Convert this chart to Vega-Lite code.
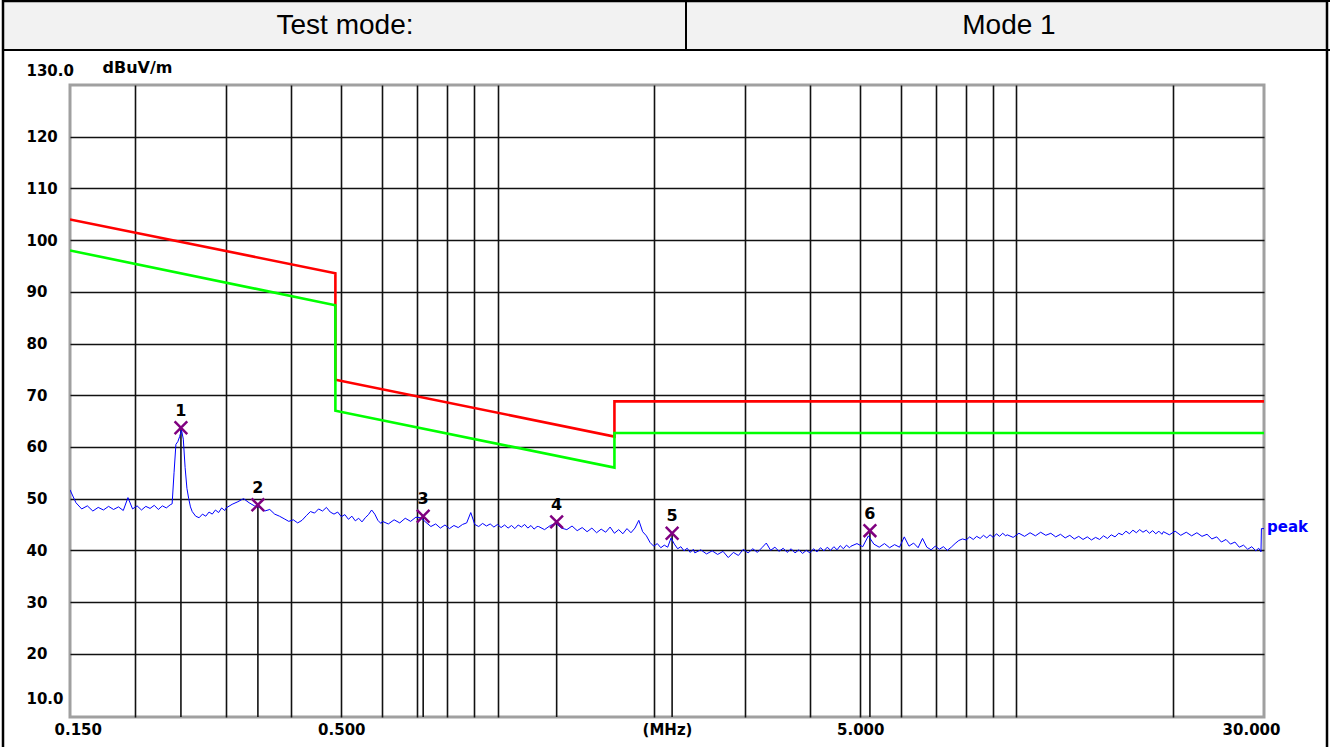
{
  "$schema": "https://vega.github.io/schema/vega-lite/v6.json",
  "width": 1194,
  "height": 632,
  "autosize": {"type": "none"},
  "padding": {"left": 70, "top": 85, "right": 66, "bottom": 30},
  "background": "white",
  "config": {
    "view": {"stroke": "#a0a0a0", "strokeWidth": 3},
    "font": "DejaVu Sans"
  },
  "datasets": {
    "header": [{"cell": "Test mode:"}, {"cell": "Mode 1"}],
    "limits": [
      {"limit": "Limit", "i": 0, "f": 0.15, "v": 104.0},
      {"limit": "Limit", "i": 1, "f": 0.487, "v": 93.6},
      {"limit": "Limit", "i": 2, "f": 0.487, "v": 73.0},
      {"limit": "Limit", "i": 3, "f": 1.68, "v": 62.0},
      {"limit": "Limit", "i": 4, "f": 1.68, "v": 68.8},
      {"limit": "Limit", "i": 5, "f": 30, "v": 68.8},
      {"limit": "Limit -6dB", "i": 0, "f": 0.15, "v": 98.0},
      {"limit": "Limit -6dB", "i": 1, "f": 0.487, "v": 87.4},
      {"limit": "Limit -6dB", "i": 2, "f": 0.487, "v": 67.0},
      {"limit": "Limit -6dB", "i": 3, "f": 1.68, "v": 56.0},
      {"limit": "Limit -6dB", "i": 4, "f": 1.68, "v": 62.7},
      {"limit": "Limit -6dB", "i": 5, "f": 30, "v": 62.7}
    ],
    "markers": [
      {"no": "1", "f": 0.2454, "v": 63.7},
      {"no": "2", "f": 0.3453, "v": 48.8},
      {"no": "3", "f": 0.719, "v": 46.6},
      {"no": "4", "f": 1.30, "v": 45.5},
      {"no": "5", "f": 2.17, "v": 43.3},
      {"no": "6", "f": 5.22, "v": 43.8}
    ],
    "trace": [
      {"f":0.150,"v":51.7},{"f":0.154,"v":49.2},{"f":0.158,"v":48.0},{"f":0.162,"v":48.6},{"f":0.166,"v":47.6},
      {"f":0.170,"v":48.3},{"f":0.174,"v":47.8},{"f":0.178,"v":48.5},{"f":0.182,"v":47.9},{"f":0.186,"v":48.4},
      {"f":0.190,"v":47.7},{"f":0.194,"v":50.2},{"f":0.198,"v":48.0},{"f":0.202,"v":48.6},{"f":0.206,"v":47.8},
      {"f":0.210,"v":48.5},{"f":0.214,"v":48.1},{"f":0.218,"v":48.7},{"f":0.222,"v":47.9},{"f":0.226,"v":48.6},
      {"f":0.230,"v":48.2},{"f":0.234,"v":48.8},{"f":0.236,"v":49.0},{"f":0.238,"v":55.0},{"f":0.240,"v":60.5},
      {"f":0.242,"v":61.0},{"f":0.244,"v":62.0},{"f":0.246,"v":63.3},{"f":0.248,"v":61.5},{"f":0.250,"v":56.0},
      {"f":0.252,"v":52.0},{"f":0.254,"v":50.0},{"f":0.256,"v":48.4},{"f":0.258,"v":47.5},{"f":0.262,"v":46.6},
      {"f":0.266,"v":46.3},{"f":0.270,"v":47.0},{"f":0.274,"v":46.6},{"f":0.278,"v":47.4},{"f":0.282,"v":47.0},
      {"f":0.286,"v":47.8},{"f":0.290,"v":47.3},{"f":0.294,"v":48.2},{"f":0.298,"v":47.7},
      {"f":0.300,"v":48.2},{"f":0.308,"v":48.9},{"f":0.316,"v":49.4},{"f":0.324,"v":50.0},{"f":0.332,"v":49.2},
      {"f":0.340,"v":48.6},{"f":0.348,"v":48.3},{"f":0.356,"v":47.6},{"f":0.364,"v":47.9},{"f":0.372,"v":47.0},
      {"f":0.380,"v":46.6},{"f":0.388,"v":46.1},{"f":0.396,"v":45.6},{"f":0.404,"v":45.9},{"f":0.412,"v":45.3},
      {"f":0.420,"v":45.8},{"f":0.428,"v":46.7},{"f":0.436,"v":47.5},{"f":0.444,"v":47.2},{"f":0.452,"v":48.0},
      {"f":0.460,"v":47.6},{"f":0.468,"v":48.3},{"f":0.476,"v":47.4},{"f":0.484,"v":47.0},{"f":0.492,"v":47.4},
      {"f":0.500,"v":46.5},{"f":0.508,"v":46.9},{"f":0.516,"v":46.0},{"f":0.524,"v":46.6},{"f":0.532,"v":45.7},
      {"f":0.540,"v":46.2},{"f":0.548,"v":45.5},{"f":0.556,"v":46.3},{"f":0.564,"v":46.9},{"f":0.572,"v":47.8},
      {"f":0.580,"v":47.0},{"f":0.588,"v":45.8},{"f":0.596,"v":45.2},
      {"f":0.600,"v":45.6},{"f":0.616,"v":45.1},{"f":0.632,"v":45.9},{"f":0.648,"v":45.3},{"f":0.664,"v":46.2},
      {"f":0.680,"v":45.6},{"f":0.696,"v":46.4},{"f":0.712,"v":46.3},{"f":0.728,"v":45.4},{"f":0.744,"v":44.6},
      {"f":0.760,"v":45.1},{"f":0.776,"v":44.3},{"f":0.792,"v":44.9},{"f":0.808,"v":44.2},{"f":0.824,"v":44.8},
      {"f":0.840,"v":44.4},{"f":0.856,"v":45.0},{"f":0.872,"v":45.3},{"f":0.888,"v":47.3},{"f":0.904,"v":45.0},
      {"f":0.920,"v":44.6},{"f":0.936,"v":45.2},{"f":0.952,"v":44.7},{"f":0.968,"v":45.1},{"f":0.984,"v":44.5},
      {"f":1.000,"v":45.0},{"f":1.016,"v":44.4},{"f":1.032,"v":44.9},{"f":1.048,"v":44.3},{"f":1.064,"v":44.8},
      {"f":1.080,"v":44.2},{"f":1.096,"v":44.9},{"f":1.112,"v":44.5},{"f":1.128,"v":45.0},{"f":1.144,"v":44.3},
      {"f":1.160,"v":44.8},{"f":1.176,"v":44.1},{"f":1.192,"v":44.6},
      {"f":1.200,"v":44.6},{"f":1.232,"v":44.0},{"f":1.264,"v":44.8},{"f":1.296,"v":45.2},{"f":1.328,"v":44.3},
      {"f":1.360,"v":44.0},{"f":1.392,"v":44.7},{"f":1.424,"v":43.8},{"f":1.456,"v":44.4},{"f":1.488,"v":43.6},
      {"f":1.520,"v":44.3},{"f":1.552,"v":43.4},{"f":1.584,"v":44.1},{"f":1.616,"v":43.5},{"f":1.648,"v":44.5},
      {"f":1.680,"v":43.3},{"f":1.712,"v":44.0},{"f":1.744,"v":43.2},{"f":1.776,"v":44.2},{"f":1.808,"v":43.4},
      {"f":1.840,"v":44.3},{"f":1.872,"v":45.8},{"f":1.904,"v":43.6},{"f":1.936,"v":42.8},{"f":1.968,"v":41.5},
      {"f":2.000,"v":40.8},{"f":2.032,"v":41.3},{"f":2.064,"v":40.5},{"f":2.096,"v":41.0},{"f":2.128,"v":40.6},
      {"f":2.160,"v":42.4},{"f":2.192,"v":41.2},{"f":2.224,"v":40.3},{"f":2.256,"v":40.7},{"f":2.288,"v":39.9},
      {"f":2.320,"v":40.4},{"f":2.352,"v":39.6},{"f":2.384,"v":40.2},
      {"f":2.400,"v":39.5},{"f":2.464,"v":40.1},{"f":2.528,"v":39.3},{"f":2.592,"v":39.9},{"f":2.656,"v":39.2},
      {"f":2.720,"v":39.8},{"f":2.784,"v":38.6},{"f":2.848,"v":39.6},{"f":2.912,"v":39.0},{"f":2.976,"v":40.2},
      {"f":3.040,"v":39.5},{"f":3.104,"v":40.3},{"f":3.168,"v":39.6},{"f":3.232,"v":40.5},{"f":3.296,"v":41.4},
      {"f":3.360,"v":40.0},{"f":3.424,"v":40.6},{"f":3.488,"v":39.8},{"f":3.552,"v":40.4},{"f":3.616,"v":39.6},
      {"f":3.680,"v":40.3},{"f":3.744,"v":39.5},{"f":3.808,"v":40.1},{"f":3.872,"v":39.4},{"f":3.936,"v":40.0},
      {"f":4.000,"v":39.5},{"f":4.064,"v":40.3},{"f":4.128,"v":39.7},{"f":4.192,"v":40.5},{"f":4.256,"v":39.9},
      {"f":4.320,"v":40.6},{"f":4.384,"v":40.0},{"f":4.448,"v":40.7},{"f":4.512,"v":40.1},{"f":4.576,"v":40.9},
      {"f":4.640,"v":40.3},{"f":4.704,"v":41.0},{"f":4.768,"v":40.5},
      {"f":4.800,"v":40.8},{"f":4.928,"v":41.3},{"f":5.056,"v":40.7},{"f":5.184,"v":42.8},{"f":5.312,"v":41.2},
      {"f":5.440,"v":40.6},{"f":5.568,"v":41.3},{"f":5.696,"v":40.5},{"f":5.824,"v":41.1},{"f":5.952,"v":40.6},
      {"f":6.080,"v":42.6},{"f":6.208,"v":40.8},{"f":6.336,"v":41.4},{"f":6.464,"v":40.5},{"f":6.592,"v":42.3},
      {"f":6.720,"v":40.6},{"f":6.848,"v":40.1},{"f":6.976,"v":40.8},{"f":7.104,"v":40.2},{"f":7.232,"v":40.7},
      {"f":7.360,"v":40.0},{"f":7.488,"v":40.6},{"f":7.616,"v":41.3},{"f":7.744,"v":41.9},{"f":7.872,"v":42.2},
      {"f":8.000,"v":42.0},{"f":8.128,"v":42.6},{"f":8.256,"v":42.1},{"f":8.384,"v":42.7},{"f":8.512,"v":42.3},
      {"f":8.640,"v":42.9},{"f":8.768,"v":42.4},{"f":8.896,"v":43.0},{"f":9.024,"v":42.5},{"f":9.152,"v":43.2},
      {"f":9.280,"v":42.7},{"f":9.408,"v":43.3},{"f":9.536,"v":42.8},
      {"f":9.600,"v":43.0},{"f":9.856,"v":42.5},{"f":10.112,"v":43.3},{"f":10.368,"v":42.7},{"f":10.624,"v":43.4},
      {"f":10.880,"v":42.8},{"f":11.136,"v":43.5},{"f":11.392,"v":42.9},{"f":11.648,"v":43.3},{"f":11.904,"v":42.6},
      {"f":12.160,"v":43.1},{"f":12.416,"v":42.4},{"f":12.672,"v":42.9},{"f":12.928,"v":42.2},{"f":13.184,"v":42.7},
      {"f":13.440,"v":42.1},{"f":13.696,"v":42.6},{"f":13.952,"v":42.0},{"f":14.208,"v":42.5},{"f":14.464,"v":42.1},
      {"f":14.720,"v":42.8},{"f":14.976,"v":42.3},{"f":15.232,"v":43.0},{"f":15.488,"v":42.6},{"f":15.744,"v":43.3},
      {"f":16.000,"v":43.0},{"f":16.256,"v":43.7},{"f":16.512,"v":43.2},{"f":16.768,"v":43.9},{"f":17.024,"v":43.4},
      {"f":17.280,"v":44.0},{"f":17.536,"v":43.5},{"f":17.792,"v":43.9},{"f":18.048,"v":43.3},{"f":18.304,"v":43.8},
      {"f":18.560,"v":43.2},{"f":18.816,"v":43.7},{"f":19.072,"v":43.1},
      {"f":19.200,"v":43.6},{"f":19.712,"v":43.0},{"f":20.224,"v":43.7},{"f":20.736,"v":42.9},{"f":21.248,"v":43.5},
      {"f":21.760,"v":42.8},{"f":22.272,"v":43.4},{"f":22.784,"v":42.7},{"f":23.296,"v":43.1},{"f":23.808,"v":42.2},
      {"f":24.320,"v":42.6},{"f":24.832,"v":41.6},{"f":25.344,"v":42.1},{"f":25.856,"v":41.2},{"f":26.368,"v":41.6},
      {"f":26.880,"v":40.6},{"f":27.392,"v":41.0},{"f":27.904,"v":40.2},{"f":28.416,"v":40.7},{"f":28.928,"v":39.9},
      {"f":29.300,"v":40.4},{"f":29.600,"v":39.7},{"f":29.660,"v":44.2},{"f":30.000,"v":44.2}
    ]
  },
  "layer": [
    {
      "data": {"name": "header"},
      "layer": [
        {
          "mark": {"type": "rect", "fill": "#f2f2f2", "stroke": "#000000", "strokeWidth": 2, "clip": false},
          "encoding": {
            "x": {"datum": "table", "type": "nominal", "axis": null,
                  "scale": {"range": [-67, 1257], "paddingInner": 0, "paddingOuter": 0}},
            "y": {"datum": "header", "type": "nominal", "axis": null,
                  "scale": {"range": [-84, -35], "paddingInner": 0, "paddingOuter": 0}}
          }
        },
        {
          "transform": [{"filter": "datum.cell == 'Mode 1'"}],
          "mark": {"type": "rect", "fill": null, "fillOpacity": 0, "stroke": "#000000", "strokeWidth": 2, "clip": false},
          "encoding": {
            "x": {"field": "cell", "type": "nominal", "axis": null,
                  "scale": {"domain": ["Test mode:", "Mode 1"], "range": [-66, 1298], "paddingInner": 0, "paddingOuter": 0}},
            "y": {"datum": "header", "type": "nominal", "axis": null}
          }
        },
        {
          "mark": {"type": "text", "font": "Liberation Sans", "fontSize": 28, "color": "#000000", "baseline": "middle"},
          "encoding": {
            "x": {"field": "cell", "type": "nominal", "axis": null,
                  "scale": {"domain": ["Test mode:", "Mode 1"], "range": [-57, 1271], "paddingInner": 0, "paddingOuter": 0}},
            "y": {"datum": "header", "type": "nominal", "axis": null},
            "text": {"field": "cell"}
          }
        }
      ],
      "resolve": {"scale": {"x": "independent"}}
    },
    {
      "data": {"values": [{}]},
      "layer": [
        {
          "mark": {"type": "rect", "fill": null, "fillOpacity": 0, "stroke": "#000000", "strokeWidth": 2.5, "clip": false},
          "encoding": {
            "x": {"datum": "page", "type": "nominal", "axis": null,
                  "scale": {"range": [-67, 1257], "paddingInner": 0, "paddingOuter": 0}},
            "y": {"datum": "page", "type": "nominal", "axis": null,
                  "scale": {"range": [-84, 680], "paddingInner": 0, "paddingOuter": 0}}
          }
        }
      ]
    },
    {
      "layer": [
        {
          "data": {"name": "markers"},
          "mark": {"type": "rule", "color": "#111111", "strokeWidth": 1.6, "clip": true},
          "encoding": {
            "x": {"field": "f", "type": "quantitative", "scale": {"type": "log", "domain": [0.15, 30], "nice": false}},
            "y": {"field": "v", "type": "quantitative", "scale": {"domain": [7.76, 130], "nice": false, "zero": false}},
            "y2": {"datum": 0}
          }
        },
        {
          "data": {"name": "trace"},
          "mark": {"type": "line", "color": "#0000ff", "strokeWidth": 1, "clip": true},
          "encoding": {
            "x": {"field": "f", "type": "quantitative",
              "axis": {
                "values": [0.15,0.2,0.3,0.4,0.5,0.6,0.7,0.8,0.9,1,2,3,4,5,6,7,8,9,10,20,30],
                "labelExpr": "datum.value == 0.15 ? '0.150' : datum.value == 0.5 ? '0.500' : datum.value == 5 ? '5.000' : datum.value == 30 ? '30.000' : ''",
                "grid": true,
                "gridColor": {"condition": {"test": "datum.value == 0.15 || datum.value == 30", "value": "transparent"}, "value": "#111111"},
                "gridWidth": 1.6,
                "ticks": false, "tickSize": 0, "domain": false,
                "labelFont": "DejaVu Sans", "labelFontWeight": "bold", "labelFontSize": 15, "labelColor": "#000000",
                "labelPadding": 5, "labelBaseline": "top", "labelFlush": true, "labelFlushOffset": 16, "labelOverlap": false,
                "title": "(MHz)", "titleFont": "DejaVu Sans", "titleFontWeight": "bold", "titleFontSize": 15,
                "titleColor": "#000000", "titleY": 5, "titleBaseline": "top"
              }
            },
            "y": {"field": "v", "type": "quantitative",
              "axis": {
                "values": [10,20,30,40,50,60,70,80,90,100,110,120,130],
                "labelExpr": "datum.value == 10 ? '10.0' : datum.value == 130 ? '130.0' : datum.label",
                "grid": true,
                "gridColor": {"condition": {"test": "datum.value == 10 || datum.value == 130", "value": "transparent"}, "value": "#111111"},
                "gridWidth": 1.6,
                "ticks": false, "tickSize": 0, "domain": false,
                "labelFont": "DejaVu Sans", "labelFontWeight": "bold", "labelFontSize": 15, "labelColor": "#000000",
                "labelAlign": "left", "labelPadding": 44, "labelOverlap": false,
                "labelOffset": {"condition": [{"test": "datum.value == 130", "value": -15}, {"test": "datum.value == 10", "value": -7}], "value": 0},
                "title": "dBuV/m", "titleAngle": 0, "titleX": 32, "titleY": -18, "titleAlign": "left", "titleBaseline": "middle",
                "titleFont": "DejaVu Sans", "titleFontWeight": "bold", "titleFontSize": 16, "titleColor": "#000000"
              }
            }
          }
        },
        {
          "data": {"name": "limits"},
          "transform": [{"filter": "datum.limit == 'Limit'"}],
          "mark": {"type": "line", "color": "#ff0000", "strokeWidth": 2.6, "clip": true},
          "encoding": {
            "x": {"field": "f", "type": "quantitative"},
            "y": {"field": "v", "type": "quantitative"},
            "order": {"field": "i"}
          }
        },
        {
          "data": {"name": "limits"},
          "transform": [{"filter": "datum.limit == 'Limit -6dB'"}],
          "mark": {"type": "line", "color": "#00ff00", "strokeWidth": 2.6, "clip": true},
          "encoding": {
            "x": {"field": "f", "type": "quantitative"},
            "y": {"field": "v", "type": "quantitative"},
            "order": {"field": "i"}
          }
        },
        {
          "data": {"name": "markers"},
          "mark": {"type": "point", "shape": "M-1,-1L1,1M-1,1L1,-1", "size": 160, "filled": false, "color": "#800080", "strokeWidth": 2.5, "opacity": 1},
          "encoding": {
            "x": {"field": "f", "type": "quantitative"},
            "y": {"field": "v", "type": "quantitative"}
          }
        },
        {
          "data": {"name": "markers"},
          "mark": {"type": "text", "font": "DejaVu Sans", "fontWeight": "bold", "fontSize": 16, "color": "#000000", "dy": -17, "baseline": "middle"},
          "encoding": {
            "x": {"field": "f", "type": "quantitative"},
            "y": {"field": "v", "type": "quantitative"},
            "text": {"field": "no"}
          }
        },
        {
          "data": {"name": "trace"},
          "transform": [{"filter": "datum.f == 30"}, {"calculate": "'peak'", "as": "name"}],
          "mark": {"type": "text", "font": "DejaVu Sans", "fontWeight": "bold", "fontSize": 15, "color": "#0000ff", "align": "left", "baseline": "middle", "dx": 3, "dy": -2},
          "encoding": {
            "x": {"field": "f", "type": "quantitative"},
            "y": {"field": "v", "type": "quantitative"},
            "text": {"field": "name"}
          }
        }
      ]
    }
  ],
  "resolve": {"scale": {"x": "independent", "y": "independent"}}
}
